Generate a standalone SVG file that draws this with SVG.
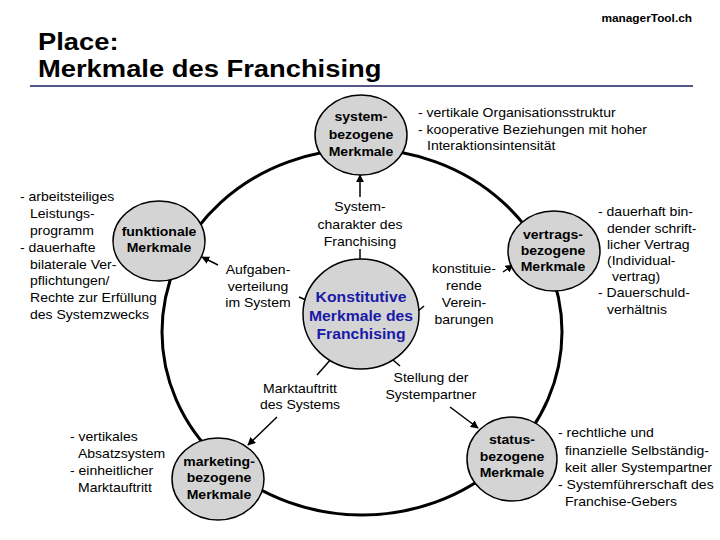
<svg xmlns="http://www.w3.org/2000/svg" width="720" height="540" viewBox="0 0 720 540">
<defs>
<style>
text{font-family:"Liberation Sans",Arial,sans-serif;fill:#000}
.t{font-size:12.3px}
.b{font-size:12.3px;font-weight:bold}
.k{font-size:13.8px;font-weight:bold;fill:#1a1aa8}
.c{text-anchor:middle}
.e{text-anchor:end}
.node ellipse{fill:#d4d4d4;stroke:#000;stroke-width:1.5}
.conn line{stroke:#000;stroke-width:1.5}
.ring{fill:none;stroke:#000;stroke-width:3}
</style>
<marker id="ah" viewBox="0 0 10 10" refX="9" refY="5" markerWidth="8" markerHeight="8" markerUnits="userSpaceOnUse" orient="auto"><path d="M0,0 L10,5 L0,10 z" fill="#000"/></marker>
</defs>
<rect width="720" height="540" fill="#fff"/>

<g id="header">
  <g transform="translate(692,22) scale(1.14,1)"><text class="e" style="font-size:10.4px;font-weight:bold" x="0" y="0">managerTool.ch</text></g>
  <g transform="translate(38,0) scale(1.14,1)">
    <text style="font-size:24px;font-weight:bold" x="0" y="50">Place:</text>
    <text style="font-size:24px;font-weight:bold" x="0" y="77">Merkmale des Franchising</text>
  </g>
  <line x1="30" y1="86" x2="693" y2="86" stroke="#1f1f5f" stroke-width="1.5"/>
</g>

<g id="connectors" class="conn">
  <ellipse class="ring" cx="362" cy="332" rx="200" ry="183"/>
  <line x1="360" y1="197" x2="360" y2="175" marker-end="url(#ah)"/>
  <line x1="360" y1="249" x2="360" y2="262"/>
  <line x1="218" y1="265" x2="202" y2="257" marker-end="url(#ah)"/>
  <line x1="299" y1="297" x2="306" y2="300"/>
  <line x1="503" y1="272" x2="513" y2="265" marker-end="url(#ah)"/>
  <line x1="417" y1="312" x2="424" y2="306"/>
  <line x1="317" y1="375" x2="332" y2="358"/>
  <line x1="277" y1="417" x2="248" y2="445" marker-end="url(#ah)"/>
  <line x1="393" y1="360" x2="400" y2="366"/>
  <line x1="450" y1="407" x2="478" y2="428" marker-end="url(#ah)"/>
</g>

<g id="node-system" class="node">
  <ellipse cx="361" cy="135" rx="46" ry="40"/>
  <g transform="translate(361,0) scale(1.14,1)">
    <text class="b c" x="0" y="121.5">system-</text>
    <text class="b c" x="0" y="139">bezogene</text>
    <text class="b c" x="0" y="156.5">Merkmale</text>
  </g>
</g>

<g id="node-funktional" class="node">
  <ellipse cx="159" cy="241" rx="46" ry="40"/>
  <g transform="translate(159,0) scale(1.14,1)">
    <text class="b c" x="0" y="236.5">funktionale</text>
    <text class="b c" x="0" y="252">Merkmale</text>
  </g>
</g>

<g id="node-vertrag" class="node">
  <ellipse cx="554" cy="251" rx="46" ry="40"/>
  <g transform="translate(553,0) scale(1.14,1)">
    <text class="b c" x="0" y="239.5">vertrags-</text>
    <text class="b c" x="0" y="255.5">bezogene</text>
    <text class="b c" x="0" y="271.5">Merkmale</text>
  </g>
</g>

<g id="node-konstitutiv" class="node">
  <ellipse cx="361" cy="314" rx="58" ry="55"/>
  <g transform="translate(361,0) scale(1.14,1)">
    <text class="k c" x="0" y="302">Konstitutive</text>
    <text class="k c" x="0" y="321">Merkmale des</text>
    <text class="k c" x="0" y="339.5">Franchising</text>
  </g>
</g>

<g id="node-marketing" class="node">
  <ellipse cx="218" cy="479" rx="46" ry="41"/>
  <g transform="translate(219,0) scale(1.14,1)">
    <text class="b c" x="0" y="466.5">marketing-</text>
    <text class="b c" x="0" y="482.5">bezogene</text>
    <text class="b c" x="0" y="499">Merkmale</text>
  </g>
</g>

<g id="node-status" class="node">
  <ellipse cx="512" cy="459" rx="45" ry="42"/>
  <g transform="translate(512,0) scale(1.14,1)">
    <text class="b c" x="0" y="444.5">status-</text>
    <text class="b c" x="0" y="461.5">bezogene</text>
    <text class="b c" x="0" y="477.5">Merkmale</text>
  </g>
</g>

<g id="label-systemcharakter" transform="translate(360,0) scale(1.14,1)">
  <text class="t c" x="0" y="211.5">System-</text>
  <text class="t c" x="0" y="229">charakter des</text>
  <text class="t c" x="0" y="246.5">Franchising</text>
</g>
<g id="label-aufgaben" transform="translate(258,0) scale(1.14,1)">
  <text class="t c" x="0" y="274.5">Aufgaben-</text>
  <text class="t c" x="0" y="291">verteilung</text>
  <text class="t c" x="0" y="307.5">im System</text>
</g>
<g id="label-konstituierend" transform="translate(464,0) scale(1.14,1)">
  <text class="t c" x="0" y="273">konstituie-</text>
  <text class="t c" x="0" y="290">rende</text>
  <text class="t c" x="0" y="307">Verein-</text>
  <text class="t c" x="0" y="324">barungen</text>
</g>
<g id="label-marktauftritt" transform="translate(300,0) scale(1.14,1)">
  <text class="t c" x="0" y="393">Marktauftritt</text>
  <text class="t c" x="0" y="409.5">des Systems</text>
</g>
<g id="label-stellung" transform="translate(431,0) scale(1.14,1)">
  <text class="t c" x="0" y="382.5">Stellung der</text>
  <text class="t c" x="0" y="399.5">Systempartner</text>
</g>

<g id="desc-system" transform="translate(418,0) scale(1.14,1)">
  <text class="t" x="0" y="117.5">- vertikale Organisationsstruktur</text>
  <text class="t" x="0" y="134.5">- kooperative Beziehungen mit hoher</text>
  <text class="t" x="7.9" y="150.5">Interaktionsintensität</text>
</g>
<g id="desc-funktional" transform="translate(20,0) scale(1.14,1)">
  <text class="t" x="0" y="201.5">- arbeitsteiliges</text>
  <text class="t" x="8.8" y="218.3">Leistungs-</text>
  <text class="t" x="8.8" y="235.1">programm</text>
  <text class="t" x="0" y="251.9">- dauerhafte</text>
  <text class="t" x="8.8" y="268.7">bilaterale Ver-</text>
  <text class="t" x="8.8" y="285.5">pflichtungen/</text>
  <text class="t" x="8.8" y="302.3">Rechte zur Erfüllung</text>
  <text class="t" x="8.8" y="319.1">des Systemzwecks</text>
</g>
<g id="desc-vertrag" transform="translate(598,0) scale(1.14,1)">
  <text class="t" x="0" y="216.5">- dauerhaft bin-</text>
  <text class="t" x="7.9" y="232.7">dender schrift-</text>
  <text class="t" x="7.9" y="248.9">licher Vertrag</text>
  <text class="t" x="7.9" y="265.1">(Individual-</text>
  <text class="t" x="12.3" y="281.3">vertrag)</text>
  <text class="t" x="0" y="297.5">- Dauerschuld-</text>
  <text class="t" x="7.9" y="313.7">verhältnis</text>
</g>
<g id="desc-marketing" transform="translate(70,0) scale(1.14,1)">
  <text class="t" x="0" y="441.5">- vertikales</text>
  <text class="t" x="7" y="458.2">Absatzsystem</text>
  <text class="t" x="0" y="474.9">- einheitlicher</text>
  <text class="t" x="7" y="491.6">Marktauftritt</text>
</g>
<g id="desc-status" transform="translate(558,0) scale(1.14,1)">
  <text class="t" x="0" y="437.5">- rechtliche und</text>
  <text class="t" x="6.1" y="454.7">finanzielle Selbständig-</text>
  <text class="t" x="6.1" y="471.9">keit aller Systempartner</text>
  <text class="t" x="0" y="489.1">- Systemführerschaft des</text>
  <text class="t" x="6.1" y="506.3">Franchise-Gebers</text>
</g>
</svg>
